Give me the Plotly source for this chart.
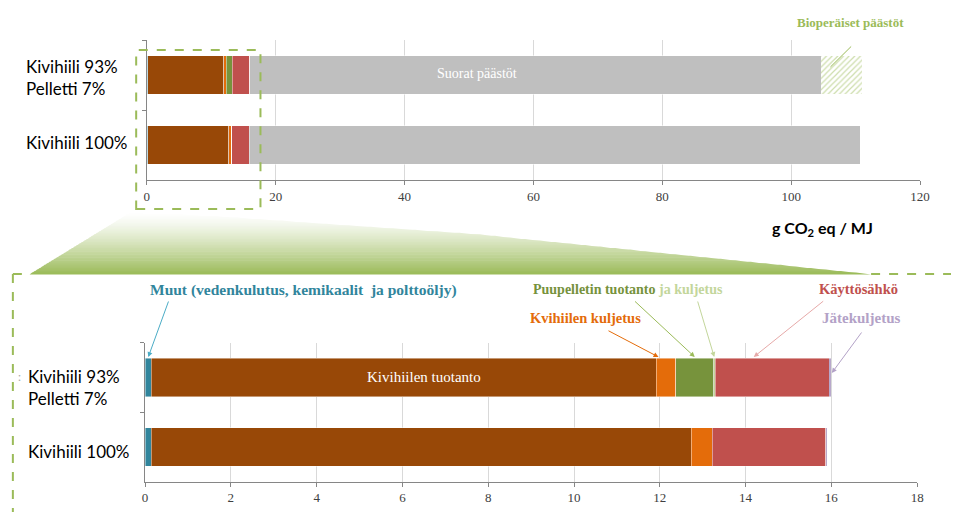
import plotly.graph_objects as go

W, H = 961, 512

# ---------------- data ----------------
categories = ["Kivihiili 93%<br>Pelletti 7%", "Kivihiili 100%"]
muut = [0.15, 0.15]                 # Muut (vedenkulutus, kemikaalit ja polttoöljy)
kivihiilen_tuotanto = [11.77, 12.58]
kivihiilen_kuljetus = [0.45, 0.49]
puupelletin_tuotanto = [0.89, 0.0]
puupelletin_kuljetus = [0.03, 0.0]
kayttosahko = [2.66, 2.65]
jatekuljetus = [0.03, 0.02]
suorat_paastot = [88.7, 94.8]
bioperaiset_paastot = [6.3, 0.0]

top_ticks = [0, 20, 40, 60, 80, 100, 120]
bottom_ticks = [0, 2, 4, 6, 8, 10, 12, 14, 16, 18]

C_MUUT = "#31859c"
C_TUOT = "#984807"
C_KULJ = "#e46c0a"
C_PELL = "#77933c"
C_PELLK = "#c3d69b"
C_KAYT = "#c0504d"
C_JATE = "#8064a2"
C_SUOR = "#bfbfbf"
C_GREEN = "#9bbb59"

def px(x):
    return x / W

def py(y):
    return 1 - y / H

fig = go.Figure()

segs = [
    ("Muut", muut, C_MUUT),
    ("Kivihiilen tuotanto", kivihiilen_tuotanto, C_TUOT),
    ("Kivihiilen kuljetus", kivihiilen_kuljetus, C_KULJ),
    ("Puupelletin tuotanto", puupelletin_tuotanto, C_PELL),
    ("Puupelletin kuljetus", puupelletin_kuljetus, C_PELLK),
    ("Käyttösähkö", kayttosahko, C_KAYT),
    ("Jätekuljetus", jatekuljetus, C_JATE),
]
edge = dict(color="rgba(255,255,255,0.55)", width=0.8)

for ax in ["", "2"]:
    for name, vals, col in segs:
        fig.add_trace(go.Bar(
            y=categories, x=vals, orientation="h", name=name,
            marker=dict(color=col, line=edge),
            xaxis="x" + ax, yaxis="y" + ax, showlegend=False,
        ))
fig.add_trace(go.Bar(
    y=categories, x=suorat_paastot, orientation="h", name="Suorat päästöt",
    marker=dict(color=C_SUOR, line=edge), xaxis="x", yaxis="y", showlegend=False,
))
fig.add_trace(go.Bar(
    y=categories, x=bioperaiset_paastot, orientation="h", name="Bioperäiset päästöt",
    marker=dict(color="white", line=dict(width=0),
                pattern=dict(shape="/", fgcolor=C_GREEN, bgcolor="white",
                             size=4, solidity=0.3)),
    xaxis="x", yaxis="y", showlegend=False,
))

tickfont = dict(family="Liberation Serif", size=13, color="#404040")
axcommon = dict(showgrid=True, gridcolor="#d9d9d9", gridwidth=1, zeroline=False,
                showline=True, linecolor="#868686", linewidth=1,
                ticks="outside", ticklen=4, tickcolor="#868686", tickfont=tickfont)
ycommon = dict(showline=True, linecolor="#868686", linewidth=1, showticklabels=False,
               ticks="outside", tickson="boundaries", ticklen=4, tickcolor="#868686",
               autorange="reversed", showgrid=False, zeroline=False)

fig.update_layout(
    width=W, height=H, margin=dict(l=0, r=0, t=0, b=0),
    paper_bgcolor="white", plot_bgcolor="white",
    barmode="stack", bargap=0.45,
    xaxis=dict(domain=[px(145.7), px(929.7)], range=[0, 120], tickvals=top_ticks,
               anchor="y", **axcommon),
    yaxis=dict(domain=[py(180), py(40)], anchor="x", **ycommon),
    xaxis2=dict(domain=[px(144), px(926.7)], range=[0, 18], tickvals=bottom_ticks,
                anchor="y2", **axcommon),
    yaxis2=dict(domain=[py(481.7), py(342.7)], anchor="x2", **ycommon),
)

shapes = []
# gradient trapezoid (zoom connector)
top_pts = [(128, 213), (200, 215), (480, 234), (880, 274)]

def hex2rgb(h):
    h = h.lstrip("#")
    return tuple(int(h[i:i + 2], 16) for i in (0, 2, 4))

def right_at(yy):
    for (x0, y0), (x1, y1) in zip(top_pts[:-1], top_pts[1:]):
        if y0 <= yy <= y1 and y1 != y0:
            return x0 + (x1 - x0) * (yy - y0) / (y1 - y0)
    return 128

g = hex2rgb(C_GREEN)
n = 40
y_top, y_bot = 213, 274
for i in range(n):
    ya = y_top + (y_bot - y_top) * i / n
    yb = y_top + (y_bot - y_top) * (i + 1) / n
    t = ((i + 0.5) / n) ** 1.3
    col = "rgb(%d,%d,%d)" % tuple(int(255 + (c - 255) * t) for c in g)
    la = 128 + (27 - 128) * (ya - 213) / (274 - 213)
    lb = 128 + (27 - 128) * (yb - 213) / (274 - 213)
    ra = right_at(ya)
    rb = right_at(yb)
    path = "M %f,%f L %f,%f L %f,%f L %f,%f Z" % (
        px(la), py(ya), px(ra), py(ya), px(rb), py(yb + 0.6), px(lb), py(yb + 0.6))
    shapes.append(dict(type="path", path=path, xref="paper", yref="paper",
                       fillcolor=col, line=dict(width=0), layer="below"))

# dashed rectangle in top chart
shapes.append(dict(type="rect", xref="paper", yref="paper",
                   x0=px(135), x1=px(261), y0=py(209), y1=py(50),
                   line=dict(color=C_GREEN, width=2, dash="dash")))
# dashed frame around bottom chart
shapes.append(dict(type="line", xref="paper", yref="paper",
                   x0=px(880), x1=px(961), y0=py(274), y1=py(274),
                   line=dict(color=C_GREEN, width=2, dash="dash")))
shapes.append(dict(type="line", xref="paper", yref="paper",
                   x0=px(10), x1=px(10), y0=py(274), y1=py(512),
                   line=dict(color=C_GREEN, width=2, dash="dash")))
shapes.append(dict(type="line", xref="paper", yref="paper",
                   x0=px(10), x1=px(27), y0=py(274), y1=py(274),
                   line=dict(color=C_GREEN, width=2, dash="dash")))
fig.update_layout(shapes=shapes)

ann = []

def text_at(text, cx, cy, font, xanchor="center", align="center"):
    ann.append(dict(text=text, x=px(cx), y=py(cy), xref="paper", yref="paper",
                    xanchor=xanchor, yanchor="middle", align=align,
                    showarrow=False, font=font))

ylab_font = dict(family="Lato", size=17, color="black")
text_at("Kivihiili 93%<br>Pelletti 7%", 21, 77, ylab_font, "left", "left")
text_at("Kivihiili 100%", 21, 142, ylab_font, "left", "left")
text_at("Kivihiili 93%<br>Pelletti 7%", 23, 387, ylab_font, "left", "left")
text_at("Kivihiili 100%", 23, 451, ylab_font, "left", "left")
text_at(":", 17, 376, dict(family="Lato", size=12, color="#aaaaaa"))

text_at("<b>g CO<sub>2</sub> eq / MJ</b>", 831, 228, dict(family="Lato", size=16, color="black"))

text_at("Suorat päästöt", 481, 73, dict(family="Liberation Serif", size=14, color="white"))
text_at("Kivihiilen tuotanto", 427, 377, dict(family="Liberation Serif", size=15, color="white"))

def lab(text, cx, cy, color, size=14):
    text_at("<b>%s</b>" % text, cx, cy, dict(family="Liberation Serif", size=size, color=color))

lab("Bioperäiset päästöt", 859, 22, C_GREEN, 13)
lab("Muut (vedenkulutus, kemikaalit&nbsp; ja polttoöljy)", 305, 290, C_MUUT, 15.5)
lab("<span style='color:#76923c'>Puupelletin tuotanto</span> "
    "<span style='color:%s'>ja kuljetus</span>" % C_PELLK, 634, 289, "#76923c", 14)
lab("Kvihiilen kuljetus", 590, 318, C_KULJ, 14.5)
lab("Käyttösähkö", 867, 289, C_KAYT, 14.5)
lab("Jätekuljetus", 870, 318, "#b3a2c7", 15)

# arrows (heads located from the data)
c0 = muut[0]
c1 = c0 + kivihiilen_tuotanto[0]
c2 = c1 + kivihiilen_kuljetus[0]
c3 = c2 + puupelletin_tuotanto[0]
c4 = c3 + puupelletin_kuljetus[0]
c5 = c4 + kayttosahko[0]
c6 = c5 + jatekuljetus[0]

def x2px(v):
    return 144 + v * (926.7 - 144) / 18

def arrow(hx, hy_px, tx, ty, color, head=2):
    ann.append(dict(text="", x=hx, y=py(hy_px), xref="x2", yref="paper",
                    ax=tx - x2px(hx), ay=ty - hy_px, axref="pixel", ayref="pixel",
                    showarrow=True, arrowhead=head, arrowsize=1, arrowwidth=1,
                    arrowcolor=color))

arrow(c0 / 2, 357, 168, 300, "#4bacc6")
arrow(c1 + 0.05, 357, 613, 330, C_KULJ)
arrow((c2 + c3) / 2, 357, 640, 300, "#9bbb59")
arrow(c4 - 0.02, 357, 704, 300, C_PELLK)
arrow(c4 + 0.9, 357, 832, 300, "#e6a9a8")
arrow(c6 + 0.03, 373, 871, 331, "#b3a2c7")

# line for bio label (top chart)
hx_top = suorat_paastot[0] + c6 + 1.4
ann.append(dict(text="", x=hx_top, y=py(67), xref="x", yref="paper",
                ax=861 - (145.7 + hx_top * (929.7 - 145.7) / 120), ay=45 - 67,
                axref="pixel", ayref="pixel", showarrow=True, arrowhead=0,
                arrowwidth=1, arrowcolor=C_GREEN))

fig.update_layout(annotations=ann)
fig.write_html("out.html")
